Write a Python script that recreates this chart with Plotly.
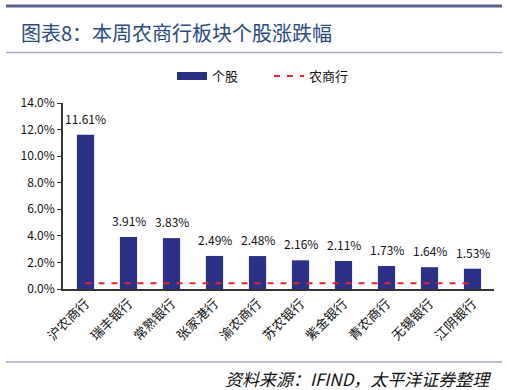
import plotly.graph_objects as go

categories = ["沪农商行", "瑞丰银行", "常熟银行", "张家港行", "渝农商行",
              "苏农银行", "紫金银行", "青农商行", "无锡银行", "江阴银行"]
stock_change = [11.61, 3.91, 3.83, 2.49, 2.48, 2.16, 2.11, 1.73, 1.64, 1.53]
sector_change = [0.43] * len(categories)
y_ticks = [0, 2, 4, 6, 8, 10, 12, 14]
y_tick_text = [f"{v:.1f}%" for v in y_ticks]

FONT = "Noto Sans CJK SC"
BAR = "#2b3187"
RED = "#e8262e"

fig = go.Figure()
fig.add_trace(go.Bar(
    x=categories, y=stock_change, name="个股", showlegend=False,
    marker=dict(color=BAR, line=dict(width=0)),
))
# legend key drawn as a wide bar swatch
fig.add_trace(go.Scatter(
    x=[None], y=[None], name="个股", mode="lines",
    line=dict(color=BAR, width=8),
))
fig.add_trace(go.Scatter(
    x=categories, y=sector_change, name="农商行", mode="lines",
    line=dict(color=RED, width=2, dash="6px,7px"),
))

for c, v in zip(categories, stock_change):
    fig.add_annotation(x=c, y=v, text=f"{v:.2f}%", showarrow=False,
                       yanchor="bottom", yshift=6,
                       font=dict(family=FONT, size=12, color="#111111"))

fig.update_layout(
    width=507, height=390,
    margin=dict(l=63, r=13, t=103, b=101),
    paper_bgcolor="white", plot_bgcolor="white",
    bargap=0.6,
    showlegend=True,
    legend=dict(orientation="h", x=(172-63)/431, xanchor="left", y=1.145, yanchor="middle",
                font=dict(family=FONT, size=13, color="#111111"),
                bgcolor="rgba(0,0,0,0)", tracegroupgap=0,
                entrywidth=52, entrywidthmode="pixels"),
    font=dict(family=FONT, size=12, color="#111111"),
)
fig.update_xaxes(
    showline=True, linecolor="#333333", linewidth=1.5,
    ticks="", tickangle=-45, tickfont=dict(family=FONT, size=13, color="#111111"),
    showgrid=False,
)
fig.update_yaxes(
    range=[0, 14], tickvals=y_ticks, ticktext=y_tick_text,
    showline=True, linecolor="#333333", linewidth=1.5,
    ticks="outside", ticklen=4, tickcolor="#333333",
    tickfont=dict(family=FONT, size=12, color="#111111"),
    showgrid=False, zeroline=False,
)

# decorative header/footer rules
fig.add_shape(type="line", xref="paper", yref="paper", x0=-57/431, x1=(431+8)/431,
              y0=(289-6)/186, y1=(289-6)/186, line=dict(color="#5c6190", width=3))
fig.add_shape(type="line", xref="paper", yref="paper", x0=-57/431, x1=(431+8)/431,
              y0=(289-52.5)/186, y1=(289-52.5)/186, line=dict(color="#a7abcc", width=1.5))
fig.add_shape(type="line", xref="paper", yref="paper", x0=-57/431, x1=(431+8)/431,
              y0=(289-362)/186, y1=(289-362)/186, line=dict(color="#a7abcc", width=1.5))

fig.add_annotation(xref="paper", yref="paper", x=-44/431, y=(289-33)/186,
                   xanchor="left", yanchor="middle", showarrow=False,
                   text="图表8：本周农商行板块个股涨跌幅",
                   font=dict(family=FONT, size=20, color="#2a4a80"))
fig.add_annotation(xref="paper", yref="paper", x=(493-63)/431, y=(289-378)/186,
                   xanchor="right", yanchor="middle", showarrow=False,
                   text="<i>资料来源：IFIND，太平洋证券整理</i>",
                   font=dict(family=FONT, size=17, color="#111111"))

fig.write_html("out.html")
